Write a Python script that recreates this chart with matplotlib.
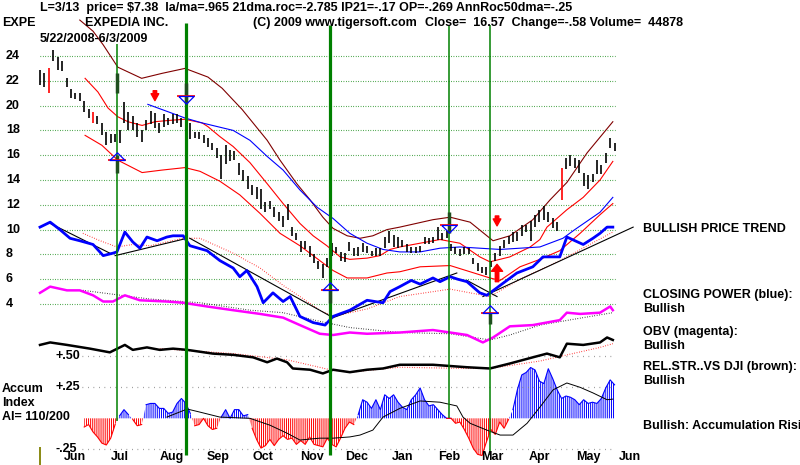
import numpy as np
from matplotlib import pyplot as plt
from matplotlib.transforms import blended_transform_factory

plt.rcParams['font.family'] = ['Liberation Sans', 'DejaVu Sans']
plt.rcParams['hatch.linewidth'] = 0.7

# price bars, one bar per two trading days from 5/22/2008 to 6/3/2009
bar_high = [22.9, 22.6, 23.0, 24.5, 23.9, 23.6, 22.2, 21.3, 21.0, 21.0,
            20.4, 19.7, 19.5, 19.2, 18.6, 17.9, 17.7, 17.7, 18.0, 20.3,
            19.5, 19.2, 18.6, 18.0, 18.8, 19.6, 19.4, 18.6, 19.3, 19.0,
            19.3, 19.3, 19.0, 19.1, 18.6, 17.9, 17.9, 17.6, 17.4, 17.0,
            16.6, 16.0, 16.8, 16.4, 16.3, 15.4, 14.8, 14.3, 13.6, 13.4,
            13.3, 12.2, 12.3, 11.8, 11.4, 11.1, 12.1, 10.2, 9.7, 9.1,
            9.1, 8.7, 8.0, 7.5, 7.2, 7.7, 8.9, 8.6, 8.2, 8.1,
            9.0, 8.5, 8.6, 8.9, 8.7, 8.3, 8.5, 8.5, 9.4, 9.9,
            9.6, 9.4, 9.2, 8.8, 8.6, 8.6, 8.7, 9.4, 9.3, 9.4,
            10.2, 9.7, 9.9, 8.8, 8.6, 8.4, 8.6, 8.5, 7.7, 7.3,
            7.0, 7.0, 7.5, 8.1, 8.7, 9.2, 9.5, 9.8, 9.8, 10.4,
            10.4, 10.7, 11.2, 11.6, 11.9, 11.4, 10.9, 10.6, 15.0, 15.8,
            16.0, 15.8, 15.6, 14.6, 14.4, 14.5, 15.6, 15.2, 16.2, 17.4, 17.0]
bar_low = [21.7, 21.5, 21.0, 23.6, 22.9, 22.8, 21.5, 20.6, 20.5, 20.4,
           19.5, 19.0, 18.6, 18.5, 17.6, 16.8, 17.0, 17.1, 17.0, 18.6,
           18.0, 18.0, 17.5, 17.1, 18.0, 18.5, 18.2, 17.8, 18.3, 18.4,
           18.5, 18.6, 18.3, 18.5, 17.3, 17.4, 17.3, 17.0, 16.7, 16.4,
           15.8, 14.1, 15.3, 15.5, 15.6, 14.4, 13.9, 13.3, 12.8, 12.5,
           11.7, 11.4, 11.7, 11.0, 10.7, 10.2, 10.8, 9.5, 9.2, 8.2,
           8.4, 7.8, 7.3, 6.8, 6.1, 7.0, 7.9, 8.1, 7.5, 7.4,
           8.3, 7.9, 7.9, 8.2, 8.1, 7.9, 7.9, 7.9, 8.5, 8.9,
           8.6, 8.5, 8.6, 8.2, 8.1, 8.1, 8.2, 8.8, 8.8, 8.9,
           9.2, 9.2, 9.3, 8.3, 8.0, 7.9, 8.0, 8.0, 7.2, 6.7,
           6.5, 6.3, 7.0, 7.5, 7.9, 8.5, 8.8, 9.0, 9.1, 9.5,
           9.8, 9.1, 10.2, 10.6, 10.8, 10.6, 10.1, 9.9, 12.4, 14.9,
           15.1, 15.0, 14.6, 13.5, 13.3, 13.8, 14.5, 14.5, 15.4, 16.6, 16.3]
red_bars = [2, 12, 118]

# bands (bar index, price)
brown_i = [9, 12, 14.3, 17.6, 23, 27.6, 32.8, 38, 41.2, 44.1, 45.7, 51.4, 54.3, 58.1, 61.1, 64,
           66.3, 69.5, 72.4, 75.3, 78.5, 81.4, 88.9, 92.8, 97.3, 102.5, 106.3, 111.5, 115.4,
           119.2, 123.8, 129.6]
brown_v = [26.9, 26.0, 24.9, 23.1, 22.2, 22.6, 23.0, 22.3, 21.4, 20.3, 19.7, 17.2, 15.6, 13.7, 12.4,
           11.0, 10.1, 9.5, 9.3, 9.5, 10.0, 10.2, 10.8, 11.0, 10.6, 9.1, 9.5, 10.8, 12.4, 13.8, 16.2, 18.7]
ma_i = [24.4, 29, 32.8, 36.7, 43.7, 47.5, 51.4, 55, 58.8, 62.7, 66.3, 70.1, 74, 77.6, 81.4, 86,
        90.5, 95, 99.5, 104.1, 108.6, 113.1, 118.3, 121, 126.7, 129.6]
ma_v = [20.1, 19.5, 19.0, 18.6, 18.0, 17.2, 15.9, 14.8, 13.2, 11.8, 10.9, 9.7, 8.9, 8.4, 8.2, 8.2,
        8.5, 8.6, 8.5, 8.4, 8.5, 8.6, 9.3, 10.0, 11.4, 12.6]
upper_i = [10.2, 13.1, 15.4, 17.6, 19.9, 23.1, 26, 29, 32.8, 36.7, 38, 40.7, 43.7, 47.5, 51.4, 55,
           58.8, 61.8, 64.9, 67.9, 70.1, 74, 76.9, 79.2, 81.4, 90.5, 95, 99.5, 101.8, 106.3, 108.6,
           110.9, 113.1, 114.7, 119.2, 122.9, 126.7, 129.6]
upper_v = [22.2, 21.1, 19.8, 19.1, 18.7, 18.4, 18.7, 18.8, 18.9, 18.6, 18.3, 17.5, 16.7, 15.4, 13.7,
           12.1, 10.5, 9.5, 8.7, 7.8, 7.6, 7.7, 7.9, 8.4, 8.6, 9.2, 8.9, 7.8, 7.4, 7.8, 8.2, 8.6, 9.2,
           10.2, 11.6, 12.6, 14.0, 15.5]
lower_i = [10.2, 14, 17.6, 23.1, 27.6, 32.8, 36.2, 40.7, 45.2, 49.8, 54.3, 58.8, 63.3, 66.3, 69.5,
           74, 78.5, 81.4, 86, 92.8, 97.3, 101.8, 104.1, 108.6, 113.1, 117.6, 122.2, 126.7, 129.6]
lower_v = [17.6, 16.8, 15.6, 14.6, 14.8, 15.0, 14.7, 13.9, 12.8, 11.3, 9.7, 8.7, 7.5, 6.7, 6.1, 6.1,
           6.5, 6.6, 7.0, 7.1, 6.6, 6.1, 5.9, 7.0, 7.6, 8.3, 9.7, 11.2, 12.1]

# closing power (blue), OBV (magenta), relative strength (black), drawn in price units
cp_i = [0, 2.3, 4.5, 6.8, 9, 12, 14.3, 16.5, 17.4, 19.2, 21, 22.6, 24.2, 26.5, 28.7, 30.1, 32.4,
        33.9, 37.8, 40.7, 43.7, 45.2, 46.8, 49.1, 50.5, 52.7, 55, 56.6, 58.8, 61.8, 64.5, 66.3,
        70.1, 74, 77.6, 79.2, 81.4, 84, 86, 88.9, 90.5, 92.8, 94.5, 96.6, 99.5, 101.1, 104.1,
        107.9, 111.5, 113.8, 117.6, 119.2, 122.9, 125.1, 126.7, 128.3, 129.6]
cp_v = [10.2, 10.6, 10.0, 9.3, 9.1, 8.8, 7.9, 8.1, 8.2, 9.8, 9.0, 8.5, 9.4, 9.1, 9.4, 9.5, 9.5,
        8.7, 8.3, 7.5, 6.9, 6.2, 6.7, 5.4, 4.1, 4.9, 4.2, 4.6, 3.0, 2.5, 2.3, 3.0,
        3.5, 4.3, 4.1, 5.0, 5.4, 5.9, 5.6, 6.1, 5.8, 6.2, 6.0, 5.8, 4.9, 4.7, 5.5,
        6.5, 7.0, 7.8, 7.8, 9.4, 8.8, 9.3, 9.7, 10.2, 10.2]
cp_ma_i = [9.7, 13.6, 17.4, 21, 24.9, 32.4, 36.2, 43.7, 49.8, 55, 58.8, 63.3, 66.3, 74, 81.4,
           92.8, 101.8, 108.6, 117.6, 129.6]
cp_ma_v = [9.7, 9.1, 8.6, 8.8, 8.7, 9.3, 9.3, 8.1, 6.9, 5.5, 4.6, 3.5, 3.0, 3.6, 4.6, 5.2, 4.6,
           6.0, 7.5, 9.8]
obv_i = [0, 2.3, 6.1, 9, 12, 14.3, 16.5, 19.2, 22.6, 28.7, 32.4, 37.8, 43.7, 49.8, 55, 58.8,
         63.3, 66.3, 70.1, 74, 81.4, 88.9, 92.8, 96.6, 100.2, 102.5, 106.3, 111.5, 117.6, 119.2,
         122.2, 126.7, 129, 129.6]
obv_v = [4.9, 5.4, 5.1, 5.1, 4.7, 4.2, 4.2, 4.7, 4.3, 4.2, 4.1, 3.8, 3.5, 3.2, 2.9, 2.3,
         1.6, 1.5, 1.7, 1.6, 1.7, 1.9, 1.7, 1.5, 0.9, 1.3, 2.2, 2.3, 2.7, 3.3, 3.2, 3.3, 3.8, 3.5]
obv_ma_i = [9.7, 24.9, 36.2, 47.5, 55, 63.3, 70.1, 81.4, 92.8, 101.8, 106.3, 113.1, 122.9, 129.6]
obv_ma_v = [5.1, 4.4, 4.1, 3.5, 3.3, 2.6, 2.1, 1.7, 1.6, 1.1, 1.5, 2.3, 2.9, 3.3]
rs_i = [0, 2.3, 6.1, 11.3, 15.8, 19.2, 21, 24.2, 27.1, 30.1, 33.3, 39.1, 43.7, 48.2, 51.4, 53.6,
        55.9, 57.2, 61.1, 64, 66.3, 70.1, 74, 77.6, 81.4, 88.9, 96.6, 101.8, 106.3, 111.5, 114.7,
        117.6, 119.2, 122.9, 126.7, 128.3, 129.6]
rs_v = [0.7, 0.9, 0.7, 0.4, 0.1, 0.7, 0.3, 0.5, 0.3, 0.4, 0.3, 0.0, -0.1, -0.3, -0.7, -0.4,
        -0.7, -1.2, -1.3, -1.6, -1.3, -1.5, -1.3, -1.2, -0.9, -0.9, -1.1, -1.2, -0.8, -0.3, 0.0,
        -0.3, 0.8, 0.7, 0.9, 1.3, 1.1]
rs_ma_i = [27.1, 43.7, 55.9, 65.6, 70.1, 81.4, 96.6, 101.8, 113.1, 126.7, 129.6]
rs_ma_v = [0.4, 0.0, -0.5, -1.3, -1.5, -1.1, -1.2, -1.2, -0.6, 0.5, 0.8]

# trend lines on closing power: (i1, p1, i2, p2)
trend_lines = [(2.3, 10.5, 15.8, 8.1), (17, 7.9, 33.3, 9.3), (33.9, 9.3, 66.3, 2.9),
               (66.3, 2.9, 94.3, 6.5), (96.6, 5.9, 103.4, 4.6), (100.2, 4.6, 134.2, 10.2)]

# accumulation index, starting at bar 10
acc_vals = [-0.07, -0.05, -0.11, -0.15, -0.20, -0.215, -0.16, -0.05, 0.02, 0.07,
            0.03, -0.01, -0.06, -0.05, 0.11, 0.12, 0.12, 0.08, 0.08, 0.04,
            0.05, 0.12, 0.16, 0.12, 0.04, -0.06, -0.05, 0.0, -0.06, -0.09,
            -0.08, 0.01, 0.07, 0.0, 0.07, 0.07, 0.02, 0.03, -0.08, -0.17,
            -0.24, -0.22, -0.17, -0.22, -0.17, -0.14, -0.17, -0.16, -0.21, -0.18,
            -0.21, -0.15, -0.21, -0.22, -0.23, -0.16, -0.21, -0.23, -0.16, -0.08,
            -0.03, -0.05, 0.03, 0.15, 0.13, 0.08, 0.15, 0.07, 0.19, 0.16,
            0.19, 0.13, 0.09, 0.07, 0.15, 0.19, 0.245, 0.15, 0.10, 0.11,
            0.07, 0.03, 0.0, 0.0, -0.04, -0.03, -0.09, -0.16, -0.24, -0.29,
            -0.30, -0.19, -0.09, -0.13, -0.03, -0.08, -0.01, 0.07, 0.23, 0.35,
            0.37, 0.41, 0.39, 0.30, 0.28, 0.40, 0.32, 0.23, 0.16, 0.18,
            0.17, 0.15, 0.11, 0.15, 0.12, 0.13, 0.12, 0.16, 0.245, 0.31, 0.27]
acc_ma_i = [28.7, 33.3, 36.2, 40.7, 47.5, 52, 55.9, 58.8, 63.3, 66.3, 70.1, 72.4, 75.3, 77.6,
            81.4, 86, 90.5, 94.3, 95.7, 97.3, 101.1, 104.1, 107, 110.2, 113.1, 116.1, 119.2,
            122.2, 125.1, 128.3, 129.6]
acc_ma_v = [0.01, 0.075, 0.05, 0.01, 0.0, -0.055, -0.12, -0.175, -0.16, -0.16, -0.15, -0.135,
            -0.095, 0.01, 0.08, 0.14, 0.13, 0.10, 0.01, -0.04, -0.095, -0.135, -0.135, -0.04,
            0.09, 0.23, 0.285, 0.25, 0.205, 0.15, 0.155]

# signals
signal_i = [17.4, 33, 65.6, 92.5, 101.8]
signal_w = [1.1, 2.3, 2.3, 1.1, 1.1]
signal_top = [25.0, 26.7, 26.5, 26.5, 26.5]
signal_bottom = [-5.4, -8.2, -8.2, -5.2, -8.2]
signal_bars = [(17.4, 14.6, 16.0), (17.4, 21.0, 22.6), (33, 20.2, 21.8), (65.6, 4.1, 5.1),
               (92.5, 9.7, 11.4), (101.8, 2.4, 3.3)]
tri_up = [(17.4, 15.6), (65.6, 5.1), (101.8, 3.3)]
tri_down = [(33, 20.8), (92.5, 10.4)]
red_arrows = [(26, 21.2, 20.4, 0.55), (103.4, 11.1, 10.3, 0.55), (103.4, 5.8, 7.2, 0.8)]

price_ticks = [24, 22, 20, 18, 16, 14, 12, 10, 8, 6, 4]
acc_ticks = [0.5, 0.25, -0.25]
acc_labels = ['+.50', '+.25', '-.25']
months = ['Jun', 'Jul', 'Aug', 'Sep', 'Oct', 'Nov', 'Dec', 'Jan', 'Feb', 'Mar', 'Apr', 'May', 'Jun']
month_i = [7.9, 18.1, 29.9, 40.3, 50.5, 61.5, 71.7, 82.1, 92.5, 102.3, 112.9, 124, 133.5]

ACC_ZERO = -5.22   # accumulation index zero line in price units
ACC_SCALE = 10.0   # price units per 1.0 of accumulation index


def acc_y(v):
    return ACC_ZERO + ACC_SCALE * np.asarray(v)


W, H = 800, 465
fig = plt.figure(figsize=(W / 100, H / 100), dpi=100)
ax = fig.add_axes([0, 0, 1, 1])
ax.set_xlim(-40 / 4.42, (W - 40) / 4.42)
ax.set_ylim((353.6 - H) / 12.4, 353.6 / 12.4)
ax.axis('off')
left = blended_transform_factory(ax.transAxes, ax.transData)
bold = dict(fontweight='bold', fontsize=9, color='black')

last = len(bar_high) - 1
ax.hlines(price_ticks, 0, last, colors='#008000', linestyles=(0, (0.6, 1.6)), lw=0.8)
ax.hlines(acc_y(acc_ticks), 9.5, last, colors='#808080', linestyles=(0, (0.6, 3.8)), lw=0.9)
for p in price_ticks:
    ax.text(6 / W, p, str(p), transform=left, ha='left', va='center', **bold)
for a, lab in zip(acc_ticks, acc_labels):
    ax.text(55 / W, acc_y(a), lab, transform=left, ha='left', va='center', **bold)
for m, i in zip(months, month_i):
    ax.text(i, (353.6 - 457) / 12.4, m, ha='center', va='center', **bold)

# bands
ax.plot(brown_i, brown_v, color='#800000', lw=0.8)
ax.plot(upper_i, upper_v, color='#ff0000', lw=0.8)
ax.plot(lower_i, lower_v, color='#ff0000', lw=0.8)
ax.plot(ma_i, ma_v, color='#0000ff', lw=0.8)

# price bars
idx = np.arange(len(bar_high))
colors = ['#ff0000' if i in red_bars else 'black' for i in idx]
ax.vlines(idx, bar_low, bar_high, colors=colors, lw=1.2)

# indicators
ax.plot(cp_ma_i, cp_ma_v, color='#ff0000', lw=0.8, ls=(0, (0.6, 1.6)))
ax.plot(obv_ma_i, obv_ma_v, color='black', lw=0.8, ls=(0, (0.6, 1.6)))
ax.plot(rs_ma_i, rs_ma_v, color='#ff0000', lw=0.8, ls=(0, (0.6, 1.6)))
for i1, p1, i2, p2 in trend_lines:
    ax.plot([i1, i2], [p1, p2], color='black', lw=0.8)
ax.plot(cp_i, cp_v, color='#0000ff', lw=2.0)
ax.plot(obv_i, obv_v, color='#ff00ff', lw=1.8)
ax.plot(rs_i, rs_v, color='black', lw=1.8)

# accumulation index histogram
a = np.array(acc_vals)
ai = np.arange(10, 10 + len(a))
ax.fill_between(ai, ACC_ZERO, acc_y(a), where=a >= 0, interpolate=True,
                facecolor='none', edgecolor='#0000ff', hatch='|' * 8, linewidth=0)
ax.fill_between(ai, ACC_ZERO, acc_y(a), where=a <= 0, interpolate=True,
                facecolor='none', edgecolor='#ff0000', hatch='|' * 8, linewidth=0)
ax.plot(ai, np.ma.masked_where(a < 0, acc_y(a)), color='#0000ff', lw=0.8)
ax.plot(ai, np.ma.masked_where(a > 0, acc_y(a)), color='#ff0000', lw=0.8)
ax.plot(acc_ma_i, acc_y(acc_ma_v), color='black', lw=0.7)

# signals
ax.vlines(signal_i, signal_bottom, signal_top, colors='#008000', lw=signal_w)
for i, p1, p2 in signal_bars:
    ax.vlines(i, p1, p2, colors='#1f4f1f', lw=2.5)
for i, p in tri_up:
    ax.hlines(p, i - 2, i + 2, colors='#ff0000', lw=1.2)
    ax.plot(i, p, marker=[(-1, 0), (1, 0), (0, 1), (-1, 0)], ms=11, mfc='none', mec='#0000ff', mew=0.9)
for i, p in tri_down:
    ax.hlines(p, i - 2, i + 2, colors='#ff0000', lw=1.2)
    ax.plot(i, p, marker=[(-1, 0), (1, 0), (0, -1), (-1, 0)], ms=11, mfc='none', mec='#0000ff', mew=0.9)
for i, p_from, p_to, hw in red_arrows:
    ax.annotate('', xy=(i, p_to), xytext=(i, p_from),
                arrowprops=dict(arrowstyle='simple,head_width=%s,head_length=0.5,tail_width=0.25' % hw,
                                color='#ff0000', shrinkA=0, shrinkB=0, mutation_scale=10))
ax.vlines(0, (353.6 - 465) / 12.4, (353.6 - 447) / 12.4, colors='#808000', lw=1.3)


def px(x, y):
    return x / W, 1 - y / H


fig.text(*px(40, 8), 'L=3/13  price= $7.38  la/ma=.965 21dma.roc=-2.785 IP21=-.17 OP=-.269 '
         'AnnRoc50dma=-.25', va='center', **bold)
fig.text(*px(2, 23), 'EXPE', va='center', **bold)
fig.text(*px(85, 23), 'EXPEDIA INC.', va='center', **bold)
fig.text(*px(253, 23), '(C) 2009 www.tigersoft.com', va='center', **bold)
fig.text(*px(425, 23), 'Close=  16.57  Change=-.58 Volume=  44878', va='center', **bold)
fig.text(*px(40, 39), '5/22/2008-6/3/2009', va='center', **bold)

right_labels = [(229, 'BULLISH PRICE TREND'), (295, 'CLOSING POWER (blue):'), (309, 'Bullish'),
                (332, 'OBV (magenta):'), (346, 'Bullish'), (367, 'REL.STR..VS DJI (brown):'),
                (381, 'Bullish'), (426, 'Bullish: Accumulation Rising')]
for y, t in right_labels:
    fig.text(*px(643, y), t, va='center', **bold)
for y, t in [(389, 'Accum'), (403, 'Index'), (417, 'AI= 110/200')]:
    fig.text(*px(2, y), t, va='center', **bold)

fig.savefig('out.png', dpi=100)
